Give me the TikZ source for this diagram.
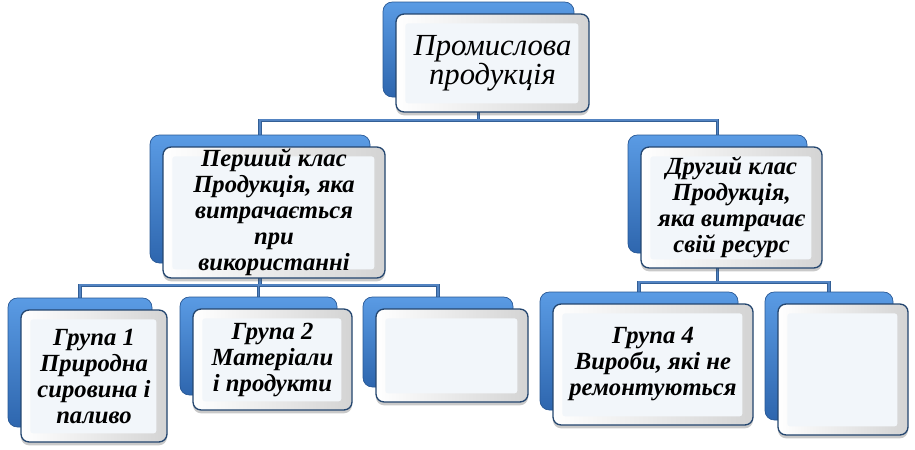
\documentclass[tikz,border=0pt]{standalone}
\usepackage{fontspec}
\setmainfont{Liberation Serif}
\usetikzlibrary{calc,backgrounds,shadows}
\definecolor{backtop}{HTML}{5A9BE4}
\definecolor{backmid}{HTML}{3D7DCA}
\definecolor{backbot}{HTML}{2E66AE}
\definecolor{frameline}{HTML}{24466F}
\definecolor{facein}{HTML}{F2F6FA}
\definecolor{linkdark}{HTML}{335F96}
\definecolor{linklight}{HTML}{5384C2}
\tikzset{
  backbox/.style ={rounded corners=7pt, draw=backbot!85!black, line width=0.5pt,
                   top color=backtop, middle color=backmid, bottom color=backbot, inner sep=0pt},
  frontbox/.style={rounded corners=6pt, draw=frameline, line width=1pt, fill=white,
                   inner sep=0pt, align=center,
                   font=\rmfamily\bfseries\itshape\fontsize{18.5}{19.5}\selectfont,
                   drop shadow={shadow xshift=0pt, shadow yshift=-2.5pt, opacity=0.3, fill=black!70},
                   path picture={
                     \shade[left color=white, right color=black!17]
                       (path picture bounding box.south west) rectangle (path picture bounding box.north east);
                     \fill[facein, rounded corners=2pt]
                       ([shift={(7pt,-7pt)}]path picture bounding box.north west) rectangle
                       ([shift={(-8pt,6.5pt)}]path picture bounding box.south east);
                   }},
  toptext/.style ={font=\rmfamily\mdseries\itshape\fontsize{23}{20}\selectfont},
  link/.style    ={draw=linkdark, line width=0.6pt, double=linklight, double distance=1.4pt},
}
% name, centre x, centre y, width, height, options, text
\newcommand\tierbox[7]{%
  \node[backbox, minimum width=#4*0.75pt, minimum height=#5*0.75pt] (#1-b) at (#2,#3) {};
  \node[frontbox, minimum width=#4*0.75pt+1.5pt, minimum height=#5*0.75pt+2.2pt, #6]
    (#1) at (#2+14,#3+13.5) {#7};}
\begin{document}
\begin{tikzpicture}[x=0.75pt,y=-0.75pt]
  \useasboundingbox (0,0) rectangle (915,450);
  % top level
  \tierbox{top}{478.5}{49.5}{191}{95}{toptext}{Промислова\\продукція}
  % classes
  \tierbox{c1}{260}{199}{220}{128}{}{Перший клас\\Продукція, яка\\витрачається\\при\\використанні}
  \tierbox{c2}{717.5}{194}{179}{118}{}{Другий клас\\Продукція,\\яка витрачає\\свій ресурс}
  % groups
  \tierbox{g1}{80}{362.5}{144}{129}{}{Група 1\\Природна\\сировина і\\паливо}
  \tierbox{g2}{258.5}{346}{157}{98}{}{Група 2\\Матеріали\\і продукти}
  \tierbox{g3}{438}{342}{150}{90}{}{}
  \tierbox{g4}{639}{351}{198}{118}{}{Група 4\\Вироби, які не\\ремонтуються}
  \tierbox{g5}{829}{356}{128}{128}{}{}
  % connectors
  \coordinate (bus0) at ($(top-b.south)+(0,23)$);
  \coordinate (bus1) at ($(c1-b.south)+(0,22)$);
  \coordinate (bus2) at ($(c2-b.south)+(0,29)$);
  \begin{scope}[on background layer]
    \draw[link] (top-b.south) -- (bus0) (c1-b.north) |- (bus0) -| (c2-b.north);
    \draw[link] (c1-b.south) -- (bus1) (g1-b.north) |- (bus1) -| (g3-b.north)
                (bus1 -| g2-b.north) -- (g2-b.north);
    \draw[link] (c2-b.south) -- (bus2) (g4-b.north) |- (bus2) -| (g5-b.north);
  \end{scope}
\end{tikzpicture}
\end{document}
